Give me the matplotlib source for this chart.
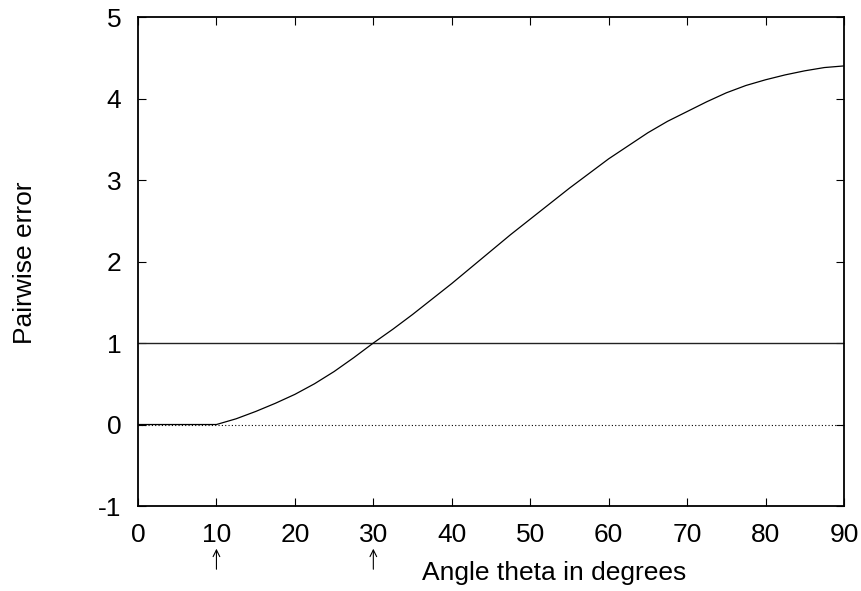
import matplotlib.pyplot as plt

#values (degrees -> pairwise error)
theta = [0, 5, 10, 12.5, 15, 17.5, 20, 22.5, 25, 27.5, 30, 32.5, 35, 37.5, 40, 42.5, 45,
         47.5, 50, 52.5, 55, 57.5, 60, 62.5, 65, 67.5, 70, 72.5, 75, 77.5, 80, 82.5, 85,
         87.5, 90]
error = [0, 0, 0, 0.07, 0.16, 0.26, 0.37, 0.50, 0.65, 0.82, 1.0, 1.17, 1.35, 1.54, 1.73,
         1.93, 2.13, 2.33, 2.52, 2.71, 2.90, 3.08, 3.26, 3.42, 3.58, 3.72, 3.84, 3.96,
         4.07, 4.16, 4.23, 4.29, 4.34, 4.38, 4.40]
threshold = 1
marked_angles = [10, 30]

xticks = [0, 10, 20, 30, 40, 50, 60, 70, 80, 90]
yticks = [-1, 0, 1, 2, 3, 4, 5]

plt.rcParams["font.family"] = ["Liberation Sans", "DejaVu Sans"]

fig = plt.figure(figsize=(8.62, 5.91), dpi=100)
ax = fig.add_axes([0.1601, 0.1438, 0.8190, 0.8274])

#zero line (dotted) and threshold line
ax.axhline(0, color="black", linewidth=0.8, linestyle=(0, (1, 2)))
ax.axhline(threshold, color="#222222", linewidth=1.0)

#error curve
ax.plot(theta, error, color="black", linewidth=0.9)

ax.set_xlim(0, 90)
ax.set_ylim(-1, 5)
ax.set_xticks(xticks)
ax.set_yticks(yticks)
ax.set_xticklabels([str(t) for t in xticks])
ax.set_yticklabels([str(t) for t in yticks])
ax.tick_params(direction="in", length=6, width=0.8, labelsize=19,
               top=True, right=True, pad=12)
for s in ax.spines.values():
    s.set_linewidth(1.3)

#arrows under the marked angles
for a in marked_angles:
    ax.annotate("", xy=(a, -1.49), xytext=(a, -1.81),
                xycoords="data", textcoords="data", annotation_clip=False,
                arrowprops=dict(arrowstyle="->", color="black", linewidth=0.8,
                                mutation_scale=12))

fig.text(422 / 862, 1 - 573 / 591, "Angle theta in degrees", fontsize=19,
         ha="left", va="center")
fig.text(25 / 862, 1 - 263 / 591, "Pairwise error", fontsize=19,
         rotation=90, ha="center", va="center")

fig.savefig("out.png", dpi=100)
